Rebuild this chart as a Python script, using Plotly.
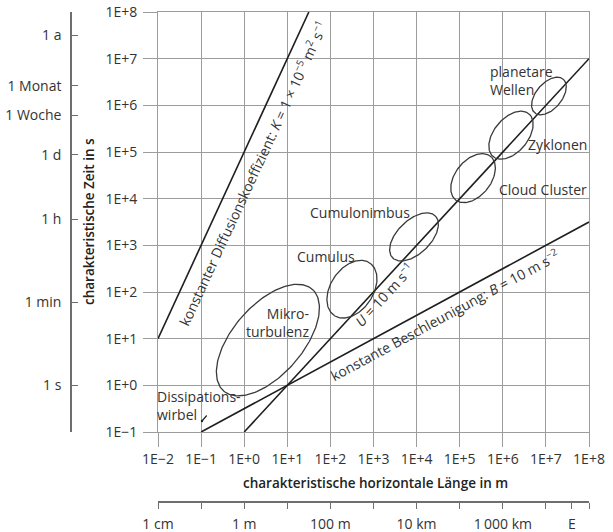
import numpy as np
import plotly.graph_objects as go

# ---- axis ranges (log10 of metres / seconds) ----
L_RANGE = (-2, 8)
T_RANGE = (-1, 8)

# main axes
x_tick_vals = [1e-2, 1e-1, 1e0, 1e1, 1e2, 1e3, 1e4, 1e5, 1e6, 1e7, 1e8]
x_tick_text = ["1E−2", "1E−1", "1E+0", "1E+1", "1E+2", "1E+3",
               "1E+4", "1E+5", "1E+6", "1E+7", "1E+8"]
y_tick_vals = [1e-1, 1e0, 1e1, 1e2, 1e3, 1e4, 1e5, 1e6, 1e7, 1e8]
y_tick_text = ["1E−1", "1E+0", "1E+1", "1E+2", "1E+3",
               "1E+4", "1E+5", "1E+6", "1E+7", "1E+8"]

# everyday length scale (m); E = Erdumfang
len_tick_vals = [1e-2, 1e-1, 1e0, 1e1, 1e2, 1e3, 1e4, 1e5, 1e6, 1e7, 4e7, 1e8]
len_tick_text = ["1 cm", "", "1 m", "", "100 m", "", "10 km", "",
                 "1\u2009000 km", "", "E", ""]

# everyday time scale (s)
time_tick_vals = [3.156e7, 2.63e6, 6.048e5, 8.64e4, 3.6e3, 60, 1]
time_tick_text = ["1 a", "1 Monat", "1 Woche", "1 d", "1 h", "1 min", "1 s"]

# ---- reference processes ----
K_DIFF = 1e-5   # Diffusionskoeffizient, m^2 s^-1
U_ADV = 10.0    # Geschwindigkeit, m s^-1
B_ACC = 10.0    # Beschleunigung, m s^-2

# ---- phenomena as ellipses in log-log space (decades) ----
phen_logL = [0.55, 2.50, 3.94, 5.31, 6.19, 7.07]
phen_logT = [0.97, 2.06, 3.18, 4.44, 5.36, 6.20]
phen_major = [1.50, 0.70, 0.67, 0.62, 0.62, 0.49]
phen_minor = [0.78, 0.48, 0.37, 0.40, 0.38, 0.29]
phen_tilt = [45, 50, 40, 46, 45, 45]

# ---- page geometry (pixels) ----
W, H = 613, 532
P_LEFT, P_RIGHT, P_TOP, P_BOTTOM = 158, 589, 12, 432
FONT = "Open Sans"
TXT = "#333333"
GRID = "#9c9c9c"

px_per_dec_x = (P_RIGHT - P_LEFT) / (L_RANGE[1] - L_RANGE[0])
px_per_dec_y = (P_BOTTOM - P_TOP) / (T_RANGE[1] - T_RANGE[0])


def px(x):
    return x / W


def py(y):
    return 1 - y / H


def screen_angle(slope):
    """Text angle (plotly, clockwise) for a power law of given log-log slope."""
    return -np.degrees(np.arctan(slope * px_per_dec_y / px_per_dec_x))


fig = go.Figure()

line_style = dict(color="#1e1e1e", width=1.6)

# t = L^2 / K
L_d = np.array([10 ** L_RANGE[0], np.sqrt(K_DIFF * 10 ** T_RANGE[1])])
fig.add_trace(go.Scatter(x=L_d, y=L_d ** 2 / K_DIFF, mode="lines",
                         line=line_style, hoverinfo="skip"))
# t = L / U
L_u = np.array([U_ADV * 10 ** T_RANGE[0], 10 ** L_RANGE[1]])
fig.add_trace(go.Scatter(x=L_u, y=L_u / U_ADV, mode="lines",
                         line=line_style, hoverinfo="skip"))
# t = sqrt(L / B)
L_b = np.array([B_ACC * (10 ** T_RANGE[0]) ** 2, 10 ** L_RANGE[1]])
fig.add_trace(go.Scatter(x=L_b, y=np.sqrt(L_b / B_ACC), mode="lines",
                         line=line_style, hoverinfo="skip"))

# ellipses
t = np.linspace(0, 2 * np.pi, 181)
for cx, cy, a, b, ang in zip(phen_logL, phen_logT, phen_major, phen_minor, phen_tilt):
    th = np.radians(ang)
    ex = cx + a * np.cos(t) * np.cos(th) - b * np.sin(t) * np.sin(th)
    ey = cy + a * np.cos(t) * np.sin(th) + b * np.sin(t) * np.cos(th)
    fig.add_trace(go.Scatter(x=10 ** ex, y=10 ** ey, mode="lines",
                             line=dict(color="#3a3a3a", width=1.3),
                             hoverinfo="skip"))

# carrier trace for the secondary (unit) axes
fig.add_trace(go.Scatter(x=[1], y=[1], xaxis="x2", yaxis="y2", mode="markers",
                         marker=dict(opacity=0), hoverinfo="skip"))

x_dom = [px(P_LEFT), px(P_RIGHT)]
y_dom = [py(P_BOTTOM), py(P_TOP)]
tick_font = dict(family=FONT, size=14, color=TXT)

fig.update_layout(
    width=W, height=H,
    margin=dict(l=0, r=0, t=0, b=0, autoexpand=False),
    paper_bgcolor="white", plot_bgcolor="white",
    showlegend=False,
    font=dict(family=FONT, size=14, color=TXT),
    xaxis=dict(domain=x_dom, type="log", range=list(L_RANGE),
               tickvals=x_tick_vals, ticktext=x_tick_text,
               ticks="outside", ticklen=14, tickcolor=GRID, tickwidth=1,
               showgrid=True, gridcolor=GRID, gridwidth=1,
               showline=True, linecolor=GRID, linewidth=1, mirror=True,
               zeroline=False, tickfont=tick_font, ticklabelstandoff=0,
               automargin=False),
    yaxis=dict(domain=y_dom, type="log", range=list(T_RANGE),
               tickvals=y_tick_vals, ticktext=y_tick_text,
               ticks="outside", ticklen=14, tickcolor=GRID, tickwidth=1,
               showgrid=True, gridcolor=GRID, gridwidth=1,
               showline=True, linecolor=GRID, linewidth=1, mirror=True,
               zeroline=False, tickfont=tick_font, ticklabelstandoff=3,
               automargin=False),
    xaxis2=dict(overlaying="x", anchor="free", position=py(502),
                side="bottom", type="log", range=list(L_RANGE),
                tickvals=len_tick_vals, ticktext=len_tick_text,
                ticks="outside", ticklen=6, tickcolor="#6e6e6e", tickwidth=1.2,
                showgrid=False, zeroline=False,
                showline=True, linecolor="#6e6e6e", linewidth=1.5,
                tickfont=tick_font, ticklabelstandoff=3, automargin=False),
    yaxis2=dict(overlaying="y", anchor="free", position=px(71),
                side="left", type="log", range=list(T_RANGE),
                tickvals=time_tick_vals, ticktext=time_tick_text,
                ticks="inside", ticklen=6, tickcolor="#6e6e6e", tickwidth=1.2,
                showgrid=False, zeroline=False,
                showline=True, linecolor="#6e6e6e", linewidth=1.5,
                tickfont=tick_font, ticklabelstandoff=6, automargin=False),
)

annots = []

# axis titles
title_font = dict(size=13.5, color="#222", weight=600)
annots.append(dict(text="charakteristische horizontale Länge in m",
                   xref="paper", yref="paper", x=px(375), y=py(483),
                   xanchor="center", yanchor="middle",
                   showarrow=False, font=title_font))
annots.append(dict(text="charakteristische Zeit in s",
                   xref="paper", yref="paper", x=px(89), y=py(222),
                   xanchor="center", yanchor="middle",
                   textangle=-90, showarrow=False, font=title_font))

# phenomenon labels (pixel positions on the page)
labels = [
    ("Mikro-<br>turbulenz", 311, 322, "right"),
    ("Cumulus", 326, 257, "center"),
    ("Cumulonimbus", 360, 212, "center"),
    ("Cloud Cluster", 543, 189, "center"),
    ("Zyklonen", 557, 144, "center"),
    ("planetare<br>Wellen", 488, 81, "left"),
    ("Dissipations-<br>wirbel", 155, 405, "left"),
]
for txt, x_px, y_px, anchor in labels:
    annots.append(dict(text=txt, x=px(x_px), y=py(y_px), xref="paper", yref="paper",
                       xanchor=anchor, yanchor="middle", align=anchor,
                       showarrow=False))

# leader to the dissipation scale
annots.append(dict(text="", x=px(202), y=py(421), xref="paper", yref="paper",
                   ax=6, ay=-7, showarrow=True, arrowhead=6, arrowsize=0.5,
                   arrowwidth=1.2, arrowcolor="#222", standoff=0))

# labels along the process lines (log10 data units)
annots.append(dict(
    text="konstanter Diffusionskoeffizient: <i>K</i> = 1 × 10<sup>−5</sup> m<sup>2</sup> s<sup>−1</sup>",
    x=0.204, y=4.55, xref="x", yref="y", textangle=screen_angle(2),
    showarrow=False))
annots.append(dict(
    text="<i>U</i> = 10 m s<sup>−1</sup>",
    x=3.244, y=1.936, xref="x", yref="y", textangle=screen_angle(1),
    showarrow=False))
annots.append(dict(
    text="konstante Beschleunigung: <i>B</i> = 10 m s<sup>−2</sup>",
    x=4.659, y=1.507, xref="x", yref="y", textangle=screen_angle(0.5),
    showarrow=False))

fig.update_layout(annotations=annots)

fig.write_html("out.html")
